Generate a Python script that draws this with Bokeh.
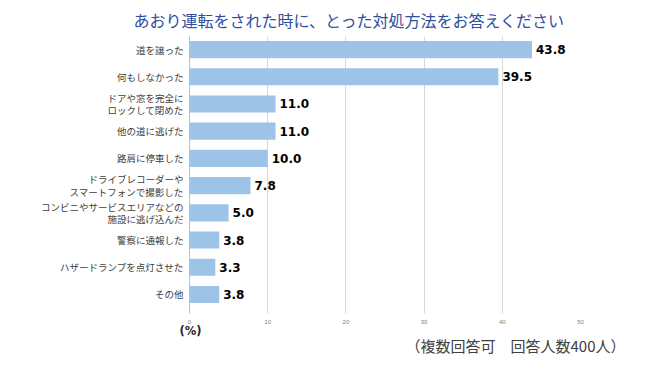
from bokeh.plotting import figure
from bokeh.models import ColumnDataSource, LabelSet, Range1d, FixedTicker, Title
from bokeh.core.properties import value
from bokeh.embed import file_html
from bokeh.resources import INLINE

categories = [
    "道を譲った",
    "何もしなかった",
    "ドアや窓を完全に\nロックして閉めた",
    "他の道に逃げた",
    "路肩に停車した",
    "ドライブレコーダーや\nスマートフォンで撮影した",
    "コンビニやサービスエリアなどの\n施設に逃げ込んだ",
    "警察に通報した",
    "ハザードランプを点灯させた",
    "その他",
]
values = [43.8, 39.5, 11.0, 11.0, 10.0, 7.8, 5.0, 3.8, 3.3, 3.8]
x_ticks = [0, 10, 20, 30, 40, 50]

title_text = "あおり運転をされた時に、とった対処方法をお答えください"
note_text = "（複数回答可　回答人数400人）"
unit_text = "(%)"

JP = "Noto Sans CJK JP"

idx = list(range(len(categories)))
src = ColumnDataSource(dict(
    y=idx,
    v=values,
    lab=[f"{v:.1f}" for v in values],
))

p = figure(output_backend="svg", toolbar_location=None,
           frame_width=391, frame_height=277,
           x_range=Range1d(0, 50), y_range=Range1d(9.70, -0.48),
           min_border_left=189, min_border_right=62, min_border_top=36, min_border_bottom=46)
p.outline_line_color = None
p.background_fill_color = "white"
p.border_fill_color = "white"

p.title.text = title_text
p.title.align = "left"
p.title.offset = -56
p.title.text_font = JP
p.title.text_font_size = "16px"
p.title.text_font_style = "normal"
p.title.text_color = "#2f4f9f"
p.title.standoff = 10

p.hbar(y="y", right="v", left=0, height=0.63, source=src,
       fill_color="#9dc3e6", line_color=None)

# axes
p.xaxis.ticker = FixedTicker(ticks=x_ticks)
p.xaxis.axis_line_color = None
p.xaxis.major_tick_line_color = None
p.xaxis.minor_tick_line_color = None
p.xaxis.major_label_text_font_size = "6px"
p.xaxis.major_label_text_color = "#808080"
p.xaxis.major_label_standoff = 0

p.yaxis.ticker = FixedTicker(ticks=idx)
p.yaxis.major_label_overrides = {i: c for i, c in zip(idx, categories)}
p.yaxis.axis_line_color = "#bfbfbf"
p.yaxis.major_tick_line_color = None
p.yaxis.minor_tick_line_color = None
p.yaxis.major_label_text_font = JP
p.yaxis.major_label_text_font_size = "9.5px"
p.yaxis.major_label_text_line_height = 0.9
p.yaxis.major_label_text_color = "#404040"
p.yaxis.major_label_standoff = 0

p.xgrid.grid_line_color = "#d9d9d9"
p.xgrid.ticker = FixedTicker(ticks=x_ticks[1:])
p.ygrid.grid_line_color = None

val_labels = LabelSet(x="v", y="y", text="lab", source=src, x_offset=4,
                      text_align="left", text_baseline="middle",
                      text_font=value("DejaVu Sans"), text_font_style=value("bold"),
                      text_font_size=value("12px"), text_color=value("#000000"))
p.add_layout(val_labels)

unit_title = Title(text=unit_text, align="left", offset=-10,
                   text_font="DejaVu Sans", text_font_style="bold",
                   text_font_size="11.5px", text_color="#262626", standoff=-10)
p.add_layout(unit_title, "below")
note_title = Title(text=note_text, align="right", offset=-45,
                   text_font=JP, text_font_style="normal",
                   text_font_size="15px", text_color="#404040", standoff=0)
p.add_layout(note_title, "below")

open("out.html", "w").write(file_html(p, INLINE))
